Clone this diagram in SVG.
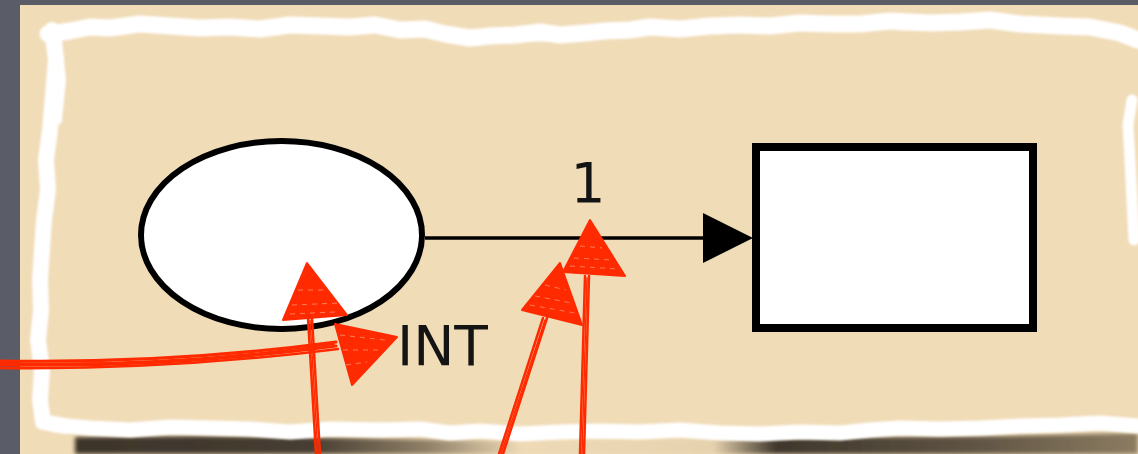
<svg xmlns="http://www.w3.org/2000/svg" width="1138" height="454" viewBox="0 0 1138 454">
<defs>
<style>
.lbl{font-family:"DejaVu Sans","Liberation Sans",sans-serif;font-size:55px;fill:#141414}
.red{stroke:#ff2a00;fill:none;stroke-linecap:round}
.redf{fill:#ff2a00;stroke:#ff2a00;stroke-width:2;stroke-linejoin:round}
.hatch{stroke:#ff9c80;stroke-width:1;fill:none;stroke-dasharray:5 5;opacity:0.7}
.tear{stroke:#ffffff;fill:none;stroke-linejoin:round;stroke-linecap:round}
</style>
<filter id="soft" x="-5%" y="-20%" width="110%" height="140%"><feGaussianBlur stdDeviation="1.2"/></filter>
<filter id="blur3" x="-10%" y="-100%" width="120%" height="300%"><feGaussianBlur stdDeviation="2.2"/></filter>
<linearGradient id="shadow" x1="0" y1="0" x2="1" y2="0">
<stop offset="0" stop-color="#3d352b"/>
<stop offset="0.22" stop-color="#463d31"/>
<stop offset="0.33" stop-color="#8e7f66"/>
<stop offset="0.42" stop-color="#eedab6"/>
<stop offset="0.6" stop-color="#e6d2ae"/>
<stop offset="0.66" stop-color="#3f372c"/>
<stop offset="0.84" stop-color="#5e5343"/>
<stop offset="1" stop-color="#8c7c62"/>
</linearGradient>
<marker id="tri" markerUnits="userSpaceOnUse" markerWidth="52" markerHeight="52" refX="0" refY="25" orient="auto">
<path d="M0,0 L50,25 L0,50 Z" fill="#000"/>
</marker>
</defs>

<!-- background -->
<rect x="0" y="0" width="1138" height="454" fill="#5a5d68"/>
<rect x="20" y="5" width="1118" height="449" fill="#f1dcb8"/>

<!-- bottom shadow -->
<path d="M75,437 L200,436 L300,437 L500,441 L760,438 L1000,436 L1138,433 L1138,454 L75,454 Z" fill="url(#shadow)" filter="url(#blur3)"/>

<!-- torn white paper edge -->
<g filter="url(#soft)">
<path class="tear" stroke-width="17" d="M48,34 L70,31 L90,27 L110,28 L140,24 L170,26 L200,28 L230,27 L260,29 L290,25 L320,26 L350,27 L375,25 L400,30 L425,29 L445,34 L470,38 L490,36 L515,35 L540,32 L560,35 L585,33 L605,31 L630,30 L650,27 L680,29 L710,26 L740,25 L770,26 L800,23 L830,24 L860,24 L890,21 L930,23 L960,22 L990,20 L1020,24 L1060,26 L1090,27 L1120,33 L1138,40"/>
<path class="tear" stroke-width="9" d="M430,31 L470,34 L520,37 L560,37 L600,34 L640,28 M680,27 L720,30 M900,26 L960,25"/>
<path class="tear" stroke-width="16" d="M52,30 L56,60 L53,95 L50,130 L46,160 L48,190 L44,220 L42,250 L40,280 L41,310 L38,340 L42,370 L40,400 L43,422 L65,426"/>
<path class="tear" stroke-width="8" d="M58,40 L62,80 L58,120"/>
<path class="tear" stroke-width="15" d="M55,425 L90,428 L130,430 L170,427 L210,428 L250,429 L290,432 L330,429 L380,430 L420,429 L450,433 L480,431 L520,434 L560,432 L600,431 L640,432 L680,430 L720,433 L760,434 L800,432 L840,433 L870,430 L900,428 L940,429 L980,428 L1020,426 L1060,425 L1100,423 L1138,426"/>
<path class="tear" stroke-width="11" d="M1132,100 L1128,125 L1130,160 L1132,200 L1134,240"/>
</g>

<!-- nodes -->
<g id="node-state">
<ellipse cx="281.5" cy="235" rx="140.5" ry="94" fill="#ffffff" stroke="#000000" stroke-width="6"/>
</g>
<g id="node-box">
<rect x="756" y="147" width="277" height="181" fill="#ffffff" stroke="#000000" stroke-width="8"/>
</g>

<!-- connectors -->
<g id="connectors">
<line x1="425" y1="238" x2="703" y2="238" stroke="#000" stroke-width="3.5" marker-end="url(#tri)"/>
<text class="lbl" x="588" y="202" text-anchor="middle">1</text>
<text class="lbl" x="397" y="365">INT</text>
</g>

<!-- red hand-drawn annotation arrows -->
<g id="annotations">
<path class="red" d="M0,361 Q170,364 336,342" stroke-width="3"/>
<path class="red" d="M0,365 Q170,368 336,346" stroke-width="3"/>
<path class="red" d="M0,368 Q170,370 338,349" stroke-width="2.5"/>
<path class="red" d="M0,363 Q175,367 334,344" stroke-width="2"/>
<polygon class="redf" points="335,324 397,337 352,385"/>
<path class="hatch" d="M340,335 L385,340 M343,350 L378,350 M346,365 L367,362"/>

<path class="red" d="M308,318 L316,454" stroke-width="2.5"/>
<path class="red" d="M312,318 L320,454" stroke-width="2.5"/>
<path class="red" d="M310,320 L318,454" stroke-width="1.5"/>
<polygon class="redf" points="307,263 283,320 347,315"/>
<path class="hatch" d="M292,305 L340,303 M290,314 L335,312 M298,290 L325,290"/>

<path class="red" d="M543,318 L499,454" stroke-width="2.5"/>
<path class="red" d="M547,318 L503,454" stroke-width="2.5"/>
<path class="red" d="M545,320 L501,454" stroke-width="1.5"/>
<polygon class="redf" points="560,263 522,310 582,325"/>
<path class="hatch" d="M530,305 L575,313 M535,296 L572,303 M545,285 L566,290"/>

<path class="red" d="M585,276 L580,454" stroke-width="2.5"/>
<path class="red" d="M589,276 L584,454" stroke-width="2.5"/>
<path class="red" d="M587,278 L582,454" stroke-width="1.5"/>
<polygon class="redf" points="590,220 563,272 625,276"/>
<path class="hatch" d="M570,266 L618,269 M574,258 L612,260 M580,246 L602,248"/>
</g>
</svg>
